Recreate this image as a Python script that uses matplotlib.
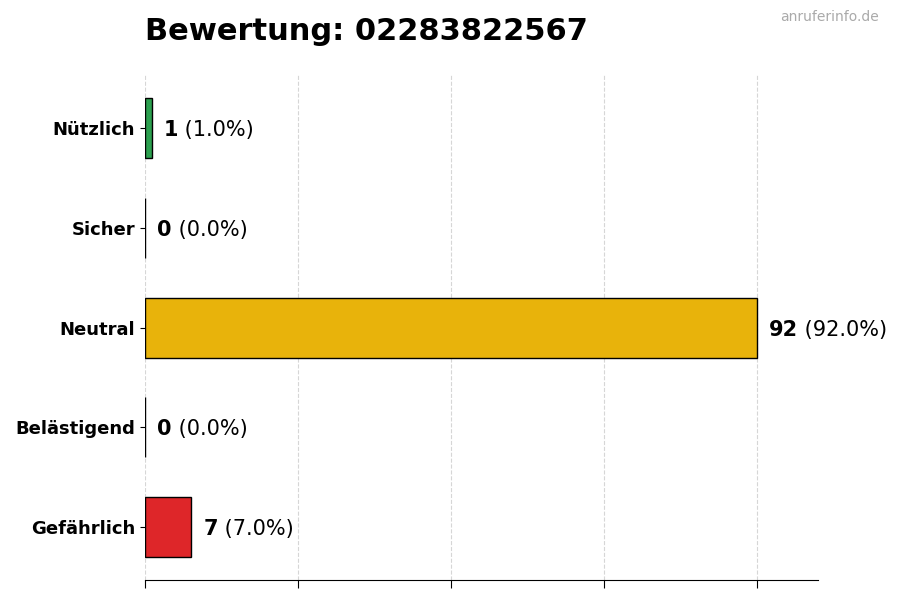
import numpy as np
import matplotlib.pyplot as plt

# Daten
kategorien = ["Nützlich", "Sicher", "Neutral", "Belästigend", "Gefährlich"]
anzahl = [1, 0, 92, 0, 7]
farben = ["#2ca04f", "#9e9e9e", "#e8b30b", "#f08c1a", "#de2629"]
nummer = "02283822567"

gesamt = sum(anzahl)
max_wert = max(anzahl)
y = np.arange(len(kategorien))[::-1]

fig, ax = plt.subplots(figsize=(9, 6), dpi=100)
fig.subplots_adjust(left=0.161, right=0.909, top=0.875, bottom=0.033)

ax.barh(y, anzahl, height=0.6, color=farben, edgecolor="black", linewidth=1, zorder=2)

# Beschriftung: fette Zahl + Prozent
for yi, wert in zip(y, anzahl):
    prozent = wert / gesamt * 100 if gesamt else 0
    t = ax.text(wert + max_wert * 0.02, yi, str(wert), va="center_baseline", ha="left",
                fontsize=15, fontweight="bold", zorder=3)
    ax.annotate(f" ({prozent:.1f}%)", xy=(1, 0.5), xycoords=t, va="center", ha="left",
                fontsize=15, zorder=3)

ax.set_yticks(y)
ax.set_yticklabels(kategorien, fontsize=13, fontweight="bold")
ax.set_xlim(0, max_wert * 1.1)
ax.set_xticks(np.linspace(0, max_wert, 5))
ax.set_xticklabels([])
ax.tick_params(axis="x", length=6)

ax.grid(axis="x", linestyle="--", color="#cccccc", alpha=0.8, zorder=0)
ax.set_axisbelow(True)
for s in ["top", "right", "left"]:
    ax.spines[s].set_visible(False)

fig.text(0.161, 0.947, f"Bewertung: {nummer}", fontsize=22, fontweight="bold",
         ha="left", va="center")
fig.text(0.976, 0.971, "anruferinfo.de", fontsize=10, color="#aaaaaa",
         ha="right", va="center")

plt.savefig("out.png", dpi=100)
